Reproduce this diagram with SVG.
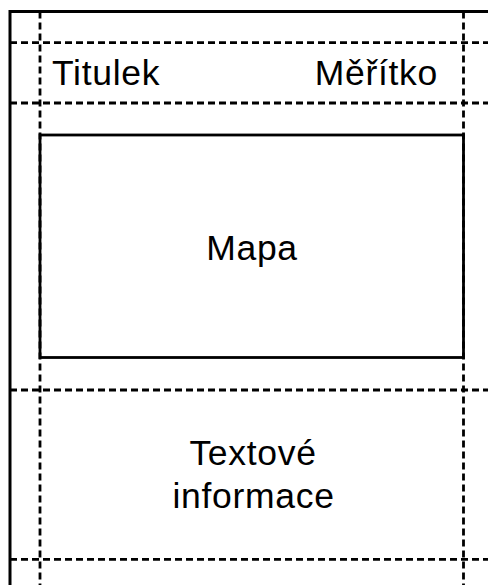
<svg xmlns="http://www.w3.org/2000/svg" width="488" height="585" viewBox="0 0 488 585">
<style>
.frame{fill:none;stroke:#000;stroke-width:3}
.grid{fill:none;stroke:#000;stroke-width:2.8;stroke-dasharray:7 4}
.box{fill:none;stroke:#000;stroke-width:2.8}
text{font-family:"Liberation Sans",Arial,sans-serif;font-size:35.5px;letter-spacing:0.7px;fill:#000}
</style>
<rect width="488" height="585" fill="#fff"/>
<g id="connectors">
<path class="frame" d="M10,585 V11.5 H488"/>
<path class="grid" d="M40,11.5 V585 M463.5,11.5 V585"/>
<path class="grid" d="M10,42.7 H488 M10,103 H488 M10,390 H488 M10,559.3 H488"/>
</g>
<g id="titulek"><text x="52" y="85">Titulek</text></g>
<g id="meritko"><text x="438" y="85" text-anchor="end">Měřítko</text></g>
<g id="mapa">
<rect class="box" x="40" y="135" width="423.5" height="222.5"/>
<text x="252" y="259.5" text-anchor="middle">Mapa</text>
</g>
<g id="textove">
<text x="253" y="464.5" text-anchor="middle">Textové</text>
<text x="253.5" y="507.5" text-anchor="middle">informace</text>
</g>
</svg>
